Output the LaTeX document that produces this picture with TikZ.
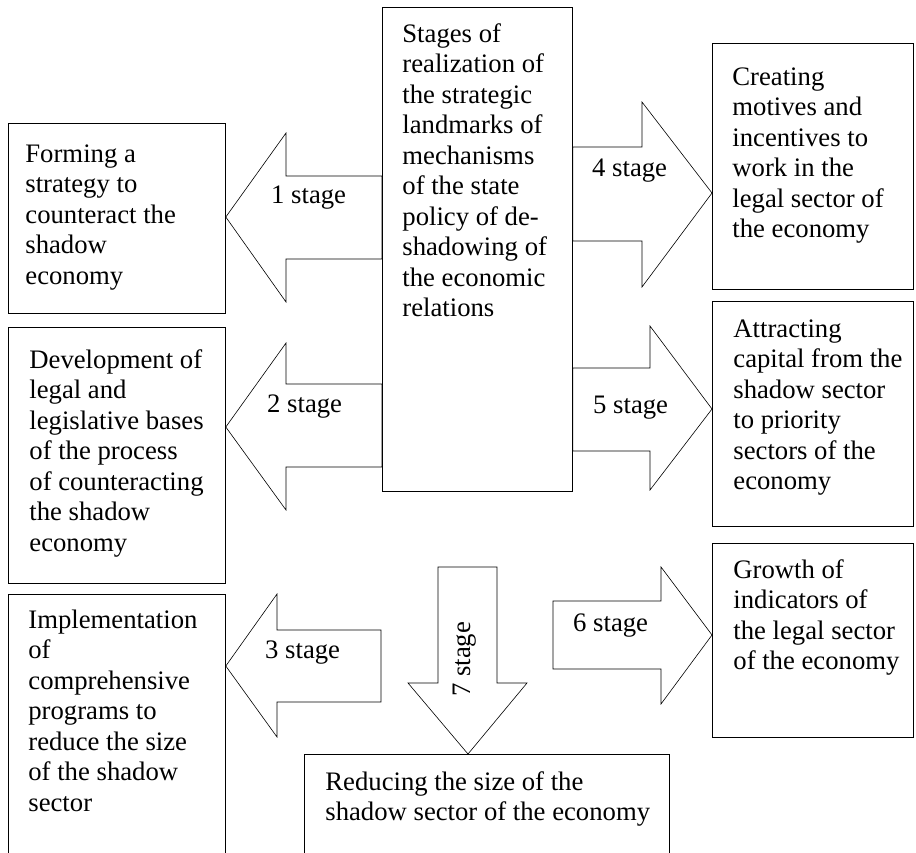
\documentclass[tikz,border=0pt]{standalone}
\usepackage{fontspec}
\setmainfont{Liberation Serif}

% width, height, left inset, first baseline, text
\newcommand{\boxtxt}[5]{\parbox[t][#2pt][t]{#1pt}{\leftskip=#3pt\relax\rule{0pt}{#4pt}#5}}

\tikzset{
  stagebox/.style={draw, line width=0.8pt, anchor=north west, inner sep=0pt,
    font=\fontsize{26.7}{30.5}\selectfont},
  stagearrow/.style={draw, line width=0.6pt, line join=miter},
  stagelbl/.style={anchor=base west, inner sep=0pt,
    font=\fontsize{26.7}{30.5}\selectfont}
}

\begin{document}
\begin{tikzpicture}[x=1pt,y=-1pt]
  \useasboundingbox (0,0) rectangle (916,852);

  \node[stagebox] (center) at (382,7) {\boxtxt{190}{484}{20}{35}{Stages of\\
    realization of\\ the strategic\\ landmarks of\\ mechanisms\\ of the state\\
    policy of de-\\ shadowing of\\ the economic\\ relations}};

  \node[stagebox] (form) at (8,123) {\boxtxt{217}{190}{17}{39}{Forming a\\
    strategy to\\ counteract the\\ shadow\\ economy}};
  \node[stagebox] (legal) at (8,327) {\boxtxt{217}{256}{21}{41}{Development of\\
    legal and\\ legislative bases\\ of the process\\ of counteracting\\
    the shadow\\ economy}};
  \node[stagebox] (progs) at (8,594) {\boxtxt{217}{275}{20}{34}{Implementation\\
    of\\ comprehensive\\ programs to\\ reduce the size\\ of the shadow\\ sector}};

  \node[stagebox] (motiv) at (712,43) {\boxtxt{201}{246}{20}{42}{Creating\\
    motives and\\ incentives to\\ work in the\\ legal sector of\\ the economy}};
  \node[stagebox] (capital) at (712,301) {\boxtxt{201}{225}{21}{36}{Attracting\\
    capital from the\\ shadow sector\\ to priority\\ sectors of the\\ economy}};
  \node[stagebox] (growth) at (712,543) {\boxtxt{201}{194}{21}{35}{Growth of\\
    indicators of\\ the legal sector\\ of the economy}};

  \node[stagebox] (reduce) at (304,754) {\boxtxt{365}{120}{21}{36}{Reducing the size of the\\
    shadow sector of the economy}};

  % arrows to the left
  \draw[stagearrow] (form.east |- 0,217) -- (286,133) -- (286,176) -- (center.west |- 0,176)
    -- (center.west |- 0,259) -- (286,259) -- (286,302) -- cycle;
  \draw[stagearrow] (legal.east |- 0,427) -- (286,343) -- (286,384) -- (center.west |- 0,384)
    -- (center.west |- 0,467) -- (286,467) -- (286,510) -- cycle;
  \draw[stagearrow] (progs.east |- 0,666) -- (277,594) -- (277,630) -- (381,630)
    -- (381,702) -- (277,702) -- (277,737) -- cycle;

  % arrows to the right
  \draw[stagearrow] (motiv.west |- 0,193) -- (642,102) -- (642,147) -- (center.east |- 0,147)
    -- (center.east |- 0,241) -- (642,241) -- (642,287) -- cycle;
  \draw[stagearrow] (capital.west |- 0,409) -- (650,326) -- (650,368) -- (center.east |- 0,368)
    -- (center.east |- 0,451) -- (650,451) -- (650,490) -- cycle;
  \draw[stagearrow] (growth.west |- 0,635) -- (661,567) -- (661,601) -- (553,601)
    -- (553,669) -- (661,669) -- (661,704) -- cycle;

  % arrow down
  \draw[stagearrow] (reduce.north -| 468,0) -- (408,683) -- (438,683) -- (438,567)
    -- (497,567) -- (497,683) -- (527,683) -- cycle;

  \node[stagelbl] (s1) at (271,203) {1 stage};
  \node[stagelbl] (s2) at (267,412) {2 stage};
  \node[stagelbl] (s3) at (265,658) {3 stage};
  \node[stagelbl] (s4) at (592,176) {4 stage};
  \node[stagelbl] (s5) at (593,413) {5 stage};
  \node[stagelbl] (s6) at (573,631) {6 stage};
  \node[stagelbl, rotate=90] (s7) at (470,697) {7 stage};
\end{tikzpicture}
\end{document}
